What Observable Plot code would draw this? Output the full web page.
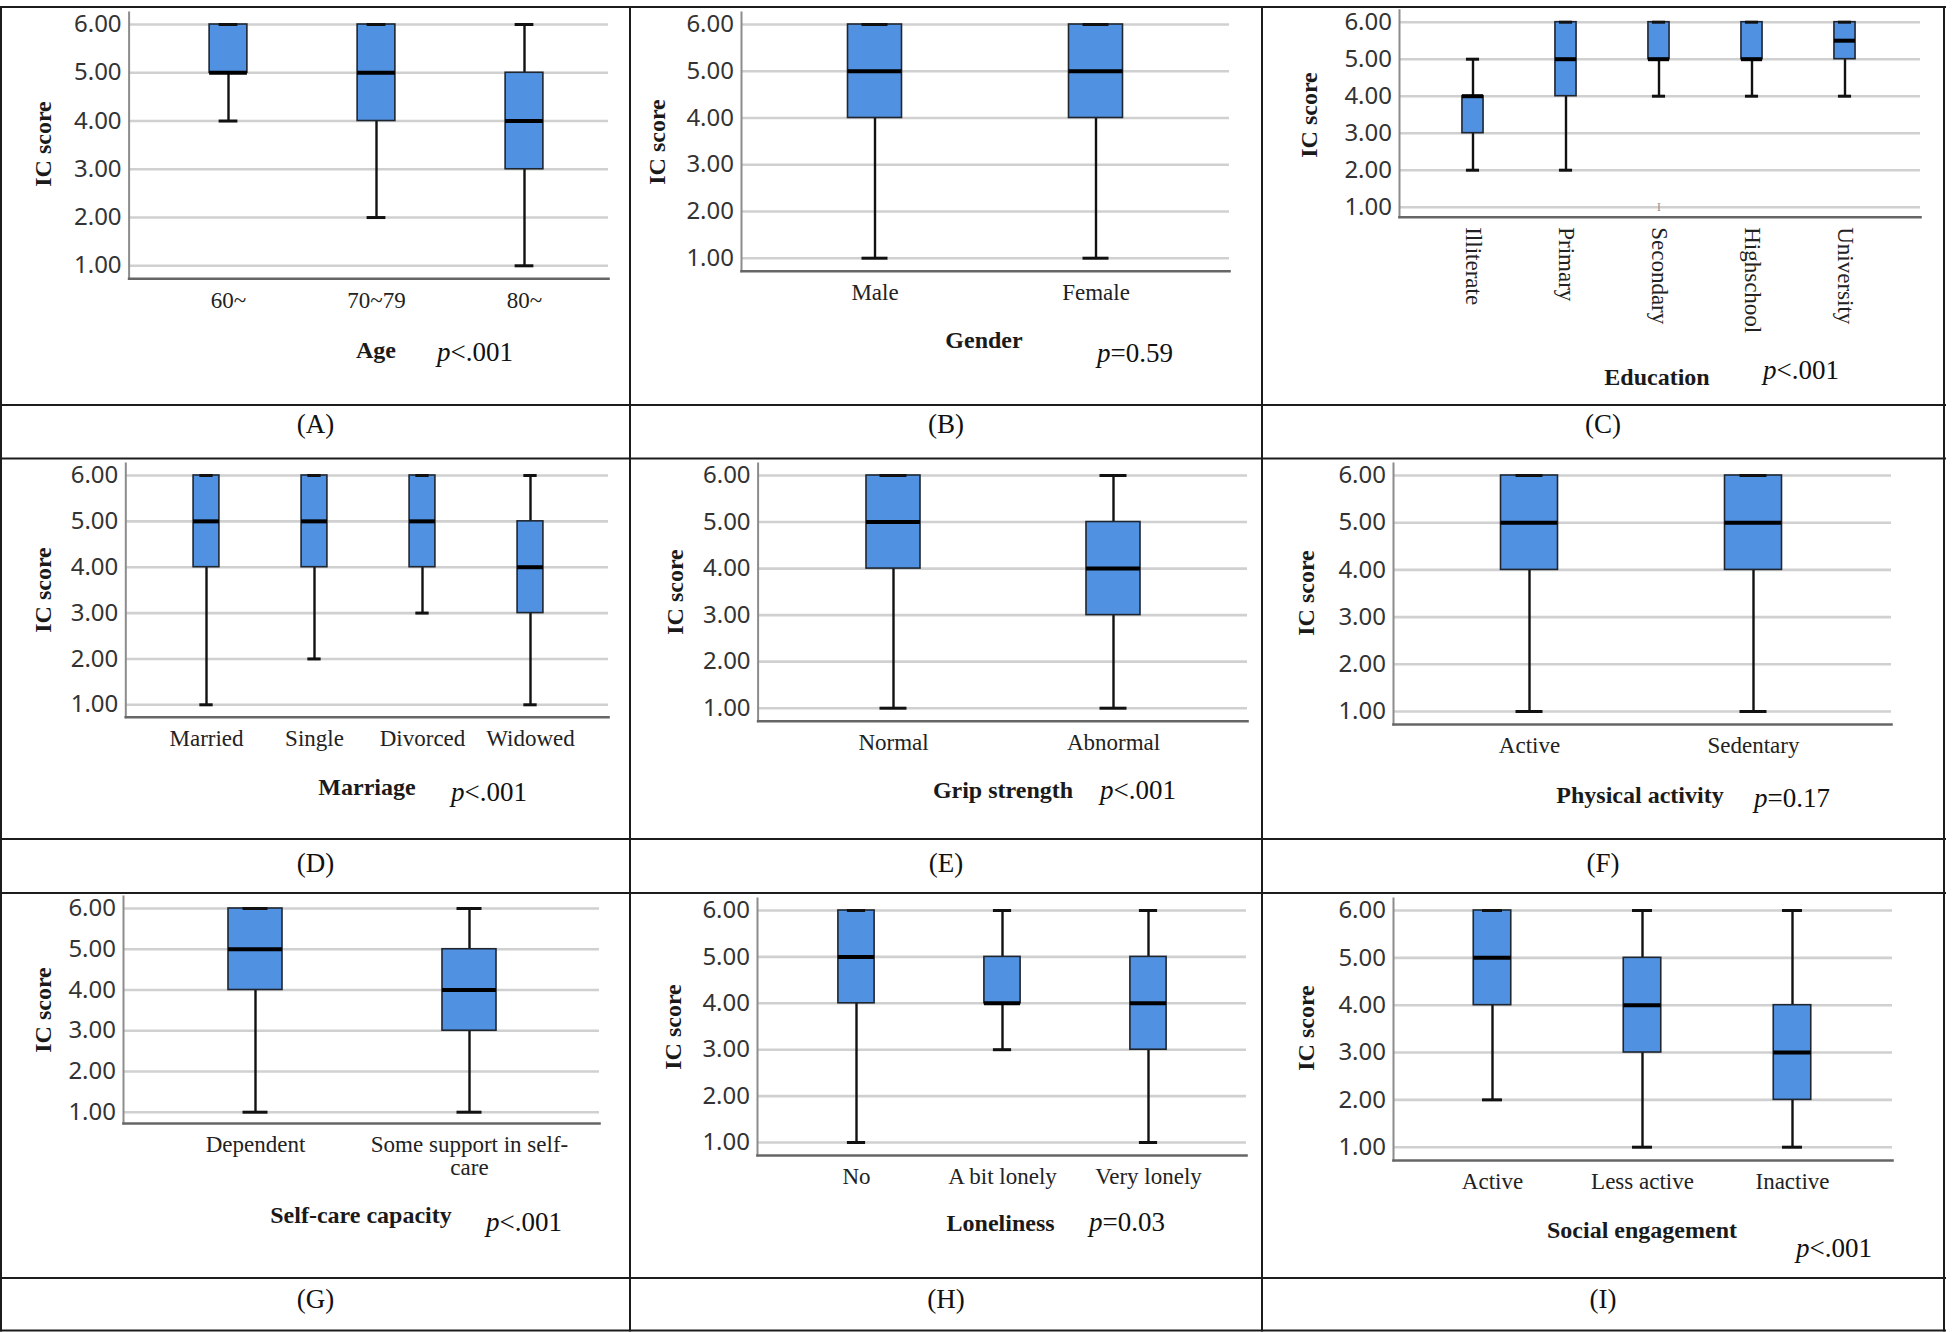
<!DOCTYPE html>
<html>
<head>
<meta charset="utf-8">
<script src="https://cdn.jsdelivr.net/npm/d3@7"></script>
<script src="https://cdn.jsdelivr.net/npm/@observablehq/plot@0.6"></script>
<style>
  html, body { margin: 0; padding: 0; background: #fff; }
  #page { position: relative; width: 1952px; height: 1332px; background: #fff; overflow: hidden;
          font-family: "Liberation Serif", "Times New Roman", Times, serif; color: #111; }
  .panel { position: absolute; }
  .panel svg { background: transparent; }
  .txt { position: absolute; white-space: nowrap; line-height: 1; }
  .title { font-weight: bold; font-size: 24px; color: #1a1a1a; transform: translate(-50%, -50%); }
  .pval { font-size: 27px; color: #111; transform: translate(0, -50%); }
  .pval i { font-style: italic; }
  .letter { font-size: 27px; color: #111; transform: translate(-50%, -50%); }
  .ylab { font-weight: bold; font-size: 24px; color: #1a1a1a; transform: translate(-50%, -50%) rotate(-90deg); }
  #grid { position: absolute; left: 0; top: 0; pointer-events: none; }
</style>
</head>
<body>
<div id="page"></div>
<script>
// ---------------- data (five-number summaries: min, Q1, median, Q3, max) ----------------
const ageCats = ["60~", "70~79", "80~"];
const ageStats = [[4, 5, 5, 6, 6], [2, 4, 5, 6, 6], [1, 3, 4, 5, 6]];

const genderCats = ["Male", "Female"];
const genderStats = [[1, 4, 5, 6, 6], [1, 4, 5, 6, 6]];

const eduCats = ["Illiterate", "Primary", "Secondary", "Highschool", "University"];
const eduStats = [[2, 3, 4, 4, 5], [2, 4, 5, 6, 6], [4, 5, 5, 6, 6], [4, 5, 5, 6, 6], [4, 5, 5.5, 6, 6]];
const eduOutliers = [["Secondary", 1]];

const marriageCats = ["Married", "Single", "Divorced", "Widowed"];
const marriageStats = [[1, 4, 5, 6, 6], [2, 4, 5, 6, 6], [3, 4, 5, 6, 6], [1, 3, 4, 5, 6]];

const gripCats = ["Normal", "Abnormal"];
const gripStats = [[1, 4, 5, 6, 6], [1, 3, 4, 5, 6]];

const activityCats = ["Active", "Sedentary"];
const activityStats = [[1, 4, 5, 6, 6], [1, 4, 5, 6, 6]];

const selfCareCats = ["Dependent", "Some support in self-\ncare"];
const selfCareStats = [[1, 4, 5, 6, 6], [1, 3, 4, 5, 6]];

const lonelyCats = ["No", "A bit lonely", "Very lonely"];
const lonelyStats = [[1, 4, 5, 6, 6], [3, 4, 4, 5, 6], [1, 3, 4, 5, 6]];

const socialCats = ["Active", "Less active", "Inactive"];
const socialStats = [[2, 4, 5, 6, 6], [1, 3, 4, 5, 6], [1, 2, 3, 4, 6]];

const yTicks = [1, 2, 3, 4, 5, 6];
const yLabel = "IC score";
const panelLetters = ["A", "B", "C", "D", "E", "F", "G", "H", "I"];
const xTitles = ["Age", "Gender", "Education", "Marriage", "Grip strength", "Physical activity",
                 "Self-care capacity", "Loneliness", "Social engagement"];
const pRels = ["<.001", "=0.59", "<.001", "<.001", "<.001", "=0.17", "<.001", "=0.03", "<.001"];

// ---------------- layout (pixels) ----------------
const SERIF = '"Liberation Serif", "Times New Roman", Times, serif';
const SANS = '"Noto Sans", "Open Sans", "DejaVu Sans", sans-serif';
const BLUE = "#5191e1";
const colX = [1, 630, 1262, 1944];
const rowTop = [7, 459, 893];
const rowBot = [405, 839, 1278];
const hLines = [7, 405, 458.5, 839, 893, 1278, 1330.5];

const panels = [
  {cats: ageCats, stats: ageStats, col: 0, row: 0, ax: 128.6, gx: 608, y6: 24, y1: 265.3, yb: 278.3, band: [153.9, 598.6], boxW: 38, capW: 19,
   yl: [43, 144], title: [376, 350], p: [437, 352]},
  {cats: genderCats, stats: genderStats, col: 1, row: 0, ax: 741, gx: 1229, y6: 24, y1: 257.7, yb: 270.7, band: [763.5, 1205.5], boxW: 54, capW: 26,
   yl: [656.5, 142], title: [984, 340], p: [1097, 353]},
  {cats: eduCats, stats: eduStats, outliers: eduOutliers, col: 2, row: 0, ax: 1399, gx: 1920, y6: 21.7, y1: 206.7, yb: 216.7, band: [1424, 1893.5], boxW: 22, capW: 14, rotate: true,
   yl: [1308.5, 115], title: [1657, 377], p: [1763, 370]},
  {cats: marriageCats, stats: marriageStats, col: 0, row: 1, ax: 125.3, gx: 608, y6: 475, y1: 704.3, yb: 716.7, band: [150.7, 585.4], boxW: 26.5, capW: 14,
   yl: [43, 590], title: [367, 787], p: [451, 792]},
  {cats: gripCats, stats: gripStats, col: 1, row: 1, ax: 757.6, gx: 1247, y6: 475, y1: 707.7, yb: 720.7, band: [783, 1223], boxW: 54, capW: 27,
   yl: [675, 592], title: [1003, 790], p: [1100, 790]},
  {cats: activityCats, stats: activityStats, col: 2, row: 1, ax: 1393, gx: 1891, y6: 475, y1: 711, yb: 724, band: [1417, 1865], boxW: 57, capW: 27,
   yl: [1306, 593], title: [1640, 795], p: [1754, 798]},
  {cats: selfCareCats, stats: selfCareStats, col: 0, row: 2, ax: 123, gx: 599, y6: 908, y1: 1111.7, yb: 1123, band: [147.6, 575.6], boxW: 54, capW: 25,
   yl: [43, 1010], title: [361, 1215], p: [486, 1222]},
  {cats: lonelyCats, stats: lonelyStats, col: 1, row: 2, ax: 757, gx: 1246, y6: 910, y1: 1142, yb: 1155, band: [782, 1222.4], boxW: 37, capW: 19,
   yl: [673, 1027], title: [1000.6, 1223], p: [1089, 1222]},
  {cats: socialCats, stats: socialStats, col: 2, row: 2, ax: 1393, gx: 1892, y6: 910, y1: 1146.7, yb: 1160, band: [1417, 1867], boxW: 37.5, capW: 20,
   yl: [1306, 1028], title: [1642, 1230], p: [1796, 1248]}
];
const letterY = [424, 863, 1299];

const page = document.getElementById("page");

function addText(cls, x, y, html) {
  const d = document.createElement("div");
  d.className = "txt " + cls;
  d.style.left = x + "px";
  d.style.top = y + "px";
  d.innerHTML = html;
  page.appendChild(d);
  return d;
}

panels.forEach((P, k) => {
  const left = colX[P.col], right = colX[P.col + 1];
  const top = rowTop[P.row], bottom = rowBot[P.row];
  const width = right - left, height = bottom - top;
  const unit = (P.y1 - P.y6) / 5;
  const topExtra = 12;
  const lo = 1 - (P.yb - P.y1) / unit;
  const hi = 6 + topExtra / unit;
  const rows = P.cats.map((c, i) => ({cat: c, min: P.stats[i][0], q1: P.stats[i][1], med: P.stats[i][2], q3: P.stats[i][3], max: P.stats[i][4]}));
  const step = (P.band[1] - P.band[0]) / P.cats.length;
  const boxInset = (step - P.boxW) / 2;
  const capInset = (step - P.capW) / 2;

  const xAxisOpts = P.rotate
    ? {tickSize: 0, tickPadding: 10, tickRotate: 90, textAnchor: "start", lineAnchor: "middle", fontSize: 23, fontFamily: SERIF, fill: "#222", label: null}
    : {tickSize: 0, tickPadding: 12.5, fontSize: 23, fontFamily: SERIF, fill: "#222", label: null, lineHeight: 1.0};

  const marks = [
    Plot.gridY(yTicks, {stroke: "#d0d0d0", strokeOpacity: 1, strokeWidth: 2.6}),
    Plot.frame({anchor: "left", stroke: "#8c8c8c", strokeWidth: 2}),
    Plot.frame({anchor: "bottom", stroke: "#666", strokeWidth: 2.6}),
    Plot.ruleX(rows, {x: "cat", y1: "min", y2: "q1", stroke: "#111", strokeWidth: 2.4}),
    Plot.ruleX(rows, {x: "cat", y1: "q3", y2: "max", stroke: "#111", strokeWidth: 2.4}),
    Plot.barY(rows, {x: "cat", y1: "q1", y2: "q3", fill: BLUE, stroke: "#1e2630", strokeWidth: 1.6, insetLeft: boxInset, insetRight: boxInset}),
    Plot.tickY(rows, {x: "cat", y: "med", stroke: "#000", strokeWidth: 4, insetLeft: boxInset, insetRight: boxInset}),
    Plot.tickY(rows, {x: "cat", y: "min", stroke: "#111", strokeWidth: 3, insetLeft: capInset, insetRight: capInset}),
    Plot.tickY(rows, {x: "cat", y: "max", stroke: "#111", strokeWidth: 3, insetLeft: capInset, insetRight: capInset}),
    Plot.axisY(yTicks, {tickSize: 0, tickPadding: 7.5, tickFormat: d => d.toFixed(2), fontSize: 24, fontFamily: SANS, fill: "#333", label: null}),
    Plot.axisX(xAxisOpts)
  ];
  if (P.outliers) {
    marks.push(Plot.text(P.outliers, {x: d => d[0], y: d => d[1], text: () => "I", fontSize: 13, fontFamily: SERIF, fill: "#999"}));
  }

  const chart = Plot.plot({
    width, height,
    marginLeft: P.ax - left,
    marginRight: right - P.gx,
    marginTop: (P.y6 - topExtra) - top,
    marginBottom: bottom - P.yb,
    style: {background: "transparent", fontFamily: SERIF, overflow: "visible"},
    x: {type: "band", domain: P.cats, range: [P.band[0] - left, P.band[1] - left], padding: 0},
    y: {domain: [lo, hi]},
    marks
  });
  const holder = document.createElement("div");
  holder.className = "panel";
  holder.style.left = left + "px";
  holder.style.top = top + "px";
  holder.style.width = width + "px";
  holder.style.height = height + "px";
  holder.appendChild(chart);
  page.appendChild(holder);

  addText("ylab", P.yl[0], P.yl[1], yLabel);
  addText("title", P.title[0], P.title[1], xTitles[k]);
  addText("pval", P.p[0], P.p[1], "<i>p</i>" + pRels[k].replace("<", "&lt;"));
  addText("letter", (left + right) / 2, letterY[P.row], "(" + panelLetters[k] + ")");
});

// table rules
const svg = d3.select(page).append("svg").attr("id", "grid").attr("width", 1952).attr("height", 1332);
hLines.forEach(y => svg.append("line").attr("x1", 0).attr("x2", 1946).attr("y1", y).attr("y2", y)
  .attr("stroke", "#1c1c1c").attr("stroke-width", 2));
colX.forEach(x => svg.append("line").attr("x1", x).attr("x2", x).attr("y1", 6).attr("y2", 1331.5)
  .attr("stroke", "#1c1c1c").attr("stroke-width", 2));
</script>
</body>
</html>
